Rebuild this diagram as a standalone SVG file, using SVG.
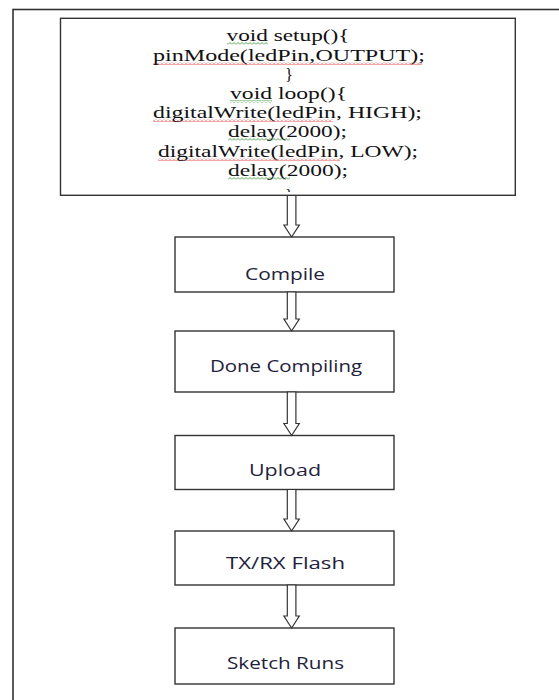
<svg xmlns="http://www.w3.org/2000/svg" width="559" height="700" viewBox="0 0 559 700">
<style>
.frame{fill:none;stroke:#333;stroke-width:1.6}
.box{fill:#fff;stroke:#333;stroke-width:1.4}
.code{font-family:"Liberation Serif","Times New Roman",serif;font-size:17.5px;fill:#111;text-anchor:middle}
.lbl{font-family:"Open Sans","Noto Sans",sans-serif;font-size:16px;fill:#22223a;text-anchor:middle}
.arrow{fill:#fff;stroke:#333;stroke-width:1.2;stroke-linejoin:miter}
</style>
<defs>
<pattern id="redwave" patternUnits="userSpaceOnUse" width="4" height="3">
<path d="M0 2.5 L2 0.5 L4 2.5" fill="none" stroke="#e23a3a" stroke-width="0.9"/>
</pattern>
<pattern id="greenwave" patternUnits="userSpaceOnUse" width="4" height="3">
<path d="M0 2.5 L2 0.5 L4 2.5" fill="none" stroke="#3c9c3c" stroke-width="0.9"/>
</pattern>
<clipPath id="codeclip"><rect x="61" y="19" width="454" height="173"/></clipPath>
</defs>
<rect class="frame" x="13" y="9.5" width="580" height="720"/>
<g id="code-box">
<rect class="box" x="60.5" y="18.3" width="454.8" height="177"/>
<g id="squiggles">
<rect x="227" y="42" width="41" height="3" fill="url(#greenwave)"/>
<rect x="153" y="62" width="269" height="3" fill="url(#redwave)"/>
<rect x="230" y="100" width="42" height="3" fill="url(#greenwave)"/>
<rect x="153" y="119" width="180" height="3" fill="url(#redwave)"/>
<rect x="228" y="138" width="62" height="3" fill="url(#greenwave)"/>
<rect x="158" y="158" width="182" height="3" fill="url(#redwave)"/>
<rect x="228" y="177" width="62" height="3" fill="url(#greenwave)"/>
</g>
<g clip-path="url(#codeclip)">
<text class="code" x="288" y="41" textLength="123" lengthAdjust="spacingAndGlyphs">void setup(){</text>
<text class="code" x="289" y="61" textLength="272" lengthAdjust="spacingAndGlyphs">pinMode(ledPin,OUTPUT);</text>
<text class="code" x="289" y="80" textLength="8" lengthAdjust="spacingAndGlyphs">}</text>
<text class="code" x="288.5" y="99" textLength="117" lengthAdjust="spacingAndGlyphs">void loop(){</text>
<text class="code" x="287.5" y="118" textLength="269" lengthAdjust="spacingAndGlyphs">digitalWrite(ledPin, HIGH);</text>
<text class="code" x="287.5" y="137" textLength="119" lengthAdjust="spacingAndGlyphs">delay(2000);</text>
<text class="code" x="288" y="157" textLength="260" lengthAdjust="spacingAndGlyphs">digitalWrite(ledPin, LOW);</text>
<text class="code" x="288" y="176" textLength="120" lengthAdjust="spacingAndGlyphs">delay(2000);</text>
<text class="code" x="289" y="201" textLength="8" lengthAdjust="spacingAndGlyphs">}</text>
</g>
</g>
<g id="compile">
<rect class="box" x="175" y="237" width="219" height="55"/>
<text class="lbl" x="285" y="280" textLength="80" lengthAdjust="spacingAndGlyphs">Compile</text>
</g>
<g id="done-compiling">
<rect class="box" x="175" y="331" width="219" height="61"/>
<text class="lbl" x="286" y="372" textLength="152" lengthAdjust="spacingAndGlyphs">Done Compiling</text>
</g>
<g id="upload">
<rect class="box" x="175" y="435.5" width="219" height="54"/>
<text class="lbl" x="285" y="476" textLength="72" lengthAdjust="spacingAndGlyphs">Upload</text>
</g>
<g id="txrx-flash">
<rect class="box" x="175" y="531" width="219" height="54"/>
<text class="lbl" x="285.5" y="569" textLength="119" lengthAdjust="spacingAndGlyphs">TX/RX Flash</text>
</g>
<g id="sketch-runs">
<rect class="box" x="175" y="628" width="219" height="56"/>
<text class="lbl" x="285.5" y="669" textLength="117" lengthAdjust="spacingAndGlyphs">Sketch Runs</text>
</g>
<g id="connectors">
<path class="arrow" d="M287.3 195.5 L295.9 195.5 L295.9 225 L299.3 225 L291.6 237 L283.9 225 L287.3 225 Z"/>
<path class="arrow" d="M287.3 292 L295.9 292 L295.9 319 L299.3 319 L291.6 331 L283.9 319 L287.3 319 Z"/>
<path class="arrow" d="M287.3 392 L295.9 392 L295.9 423.5 L299.3 423.5 L291.6 435.5 L283.9 423.5 L287.3 423.5 Z"/>
<path class="arrow" d="M287.3 489.5 L295.9 489.5 L295.9 519 L299.3 519 L291.6 531 L283.9 519 L287.3 519 Z"/>
<path class="arrow" d="M287.3 585 L295.9 585 L295.9 616 L299.3 616 L291.6 628 L283.9 616 L287.3 616 Z"/>
</g>
</svg>
